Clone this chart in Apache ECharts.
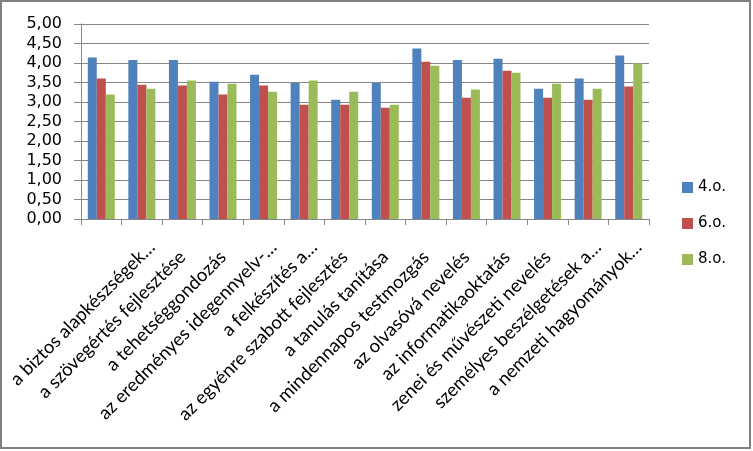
<!DOCTYPE html>
<html>
<head>
<meta charset="utf-8">
<script src="https://cdn.jsdelivr.net/npm/echarts@6/dist/echarts.min.js"></script>
<style>
  html, body { margin: 0; padding: 0; background: #fff; }
  #chart { width: 753px; height: 451px; }
</style>
</head>
<body>
<div id="chart"></div>
<script>
// categories (first one has no visible label in the source chart)
const categories = [
  '',
  'a biztos alapkészségek…',
  'a szövegértés fejlesztése',
  'a tehetséggondozás',
  'az eredményes idegennyelv-…',
  'a felkészítés a…',
  'az egyénre szabott fejlesztés',
  'a tanulás tanítása',
  'a mindennapos testmozgás',
  'az olvasóvá nevelés',
  'az informatikaoktatás',
  'zenei és művészeti nevelés',
  'személyes beszélgetések a…',
  'a nemzeti hagyományok…'
];
const seriesNames = ['4.o.', '6.o.', '8.o.'];
const grade4 = [4.14, 4.08, 4.08, 3.52, 3.70, 3.49, 3.06, 3.49, 4.37, 4.08, 4.11, 3.34, 3.60, 4.19];
const grade6 = [3.60, 3.44, 3.42, 3.19, 3.42, 2.93, 2.93, 2.85, 4.03, 3.11, 3.80, 3.11, 3.06, 3.40];
const grade8 = [3.19, 3.34, 3.55, 3.47, 3.26, 3.55, 3.26, 2.93, 3.93, 3.32, 3.75, 3.47, 3.34, 3.99];
const yTicks = { min: 0, max: 5, interval: 0.5 };

const colors = ['#4F81BD', '#C0504D', '#9BBB59'];
const gridColor = '#868686';
const labelFont = { fontFamily: 'Lato', fontSize: 18.5, color: '#000' };

const chart = echarts.init(document.getElementById('chart'));

const option = {
  animation: false,
  color: colors,
  grid: { left: 81, right: 104, top: 24, bottom: 232, containLabel: false },
  legend: {
    data: seriesNames,
    orient: 'vertical',
    left: 682,
    top: 180,
    padding: 0,
    icon: 'rect',
    itemWidth: 11,
    itemHeight: 11,
    itemGap: 21,
    textStyle: { fontFamily: 'DejaVu Sans', fontSize: 15, color: '#000' }
  },
  xAxis: {
    type: 'category',
    data: categories,
    axisLine: { lineStyle: { color: gridColor, width: 1 } },
    axisTick: { show: true, length: 6, lineStyle: { color: gridColor } },
    axisLabel: {
      interval: 0,
      rotate: 45,
      margin: 35,
      ...labelFont,
      // truncated labels (with …) reach a bit further, like in the original
      formatter: v => v === '' ? '' : (v.endsWith('…') ? '{e|' + v + '}' : '{n|' + v + '}'),
      rich: {
        n: { ...labelFont },
        e: { ...labelFont, padding: [0, -14, 0, 0] }
      }
    }
  },
  yAxis: {
    type: 'value',
    min: yTicks.min,
    max: yTicks.max,
    interval: yTicks.interval,
    axisLine: { show: true, lineStyle: { color: gridColor } },
    axisTick: { show: true, length: 7, lineStyle: { color: gridColor } },
    splitLine: { lineStyle: { color: gridColor, width: 1 } },
    axisLabel: {
      margin: 19,
      fontFamily: 'DejaVu Sans',
      fontSize: 16,
      color: '#000',
      formatter: v => v.toFixed(2).replace('.', ',')
    }
  },
  series: [grade4, grade6, grade8].map((d, i) => ({
    name: seriesNames[i],
    type: 'bar',
    data: d,
    barWidth: 9,
    barGap: 0
  })),
  graphic: [{
    type: 'rect',
    shape: { x: 1, y: 1, width: 749, height: 447 },
    style: { fill: 'none', stroke: '#7f7f7f', lineWidth: 2 },
    silent: true
  }]
};

chart.setOption(option);
</script>
</body>
</html>
